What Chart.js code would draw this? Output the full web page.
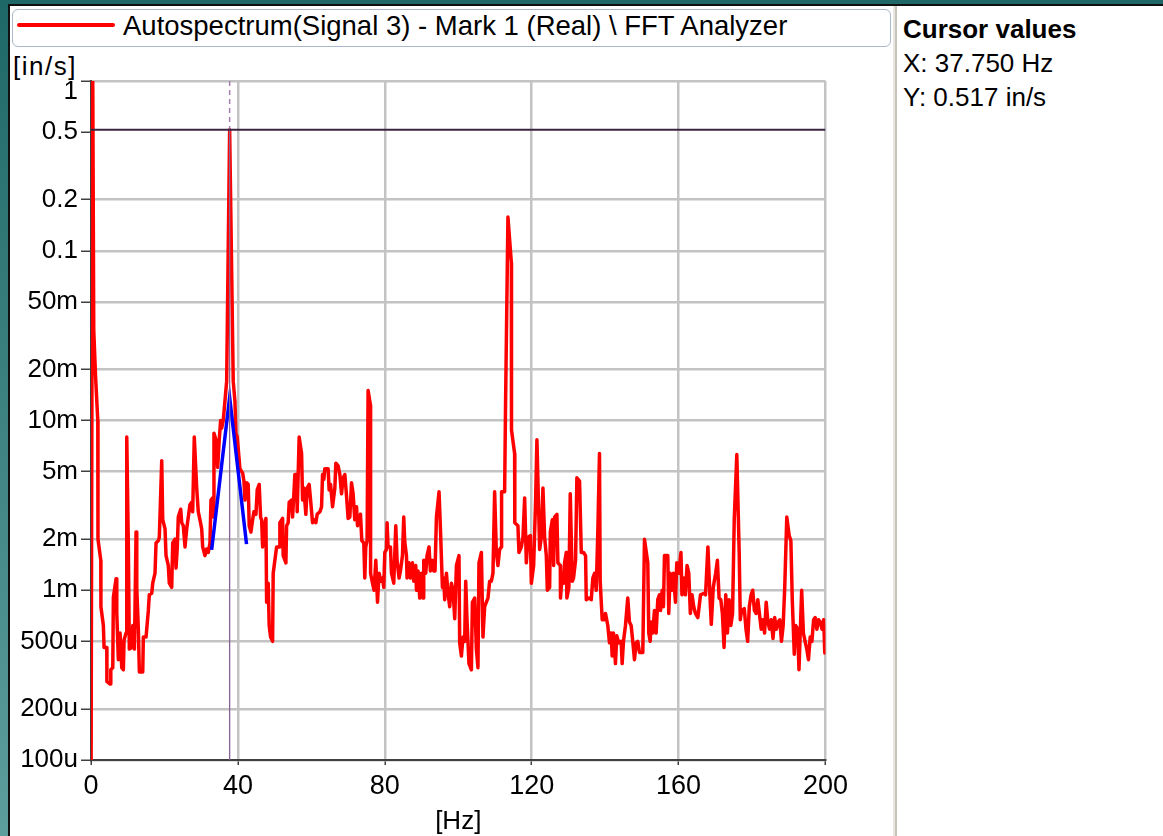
<!DOCTYPE html>
<html>
<head>
<meta charset="utf-8">
<script src="https://cdn.jsdelivr.net/npm/chart.js"></script>
<style>
html,body{margin:0;padding:0;width:1163px;height:836px;overflow:hidden;background:#fff;
  font-family:"Liberation Sans",Arial,sans-serif;color:#000;}
.abs{position:absolute;}
#frameTop{left:0;top:0;width:1163px;height:4px;background:#1f6868;}
#frameTopLine{left:8px;top:4px;width:1155px;height:2px;background:#101010;}
#frameLeft{left:0;top:0;width:8px;height:836px;background:linear-gradient(#1f6868,#5c9e9c);}
#frameLeftLine{left:8px;top:4px;width:2px;height:832px;background:#101010;}
#div1{left:893px;top:6px;width:2px;height:830px;background:#e8e6e0;}
#div2{left:895px;top:6px;width:2px;height:830px;background:#c8c4bb;}
#legend{left:12px;top:9px;width:877px;height:36px;border:1px solid #a9b8ca;border-radius:6px;background:#fff;}
#legendLine{left:17px;top:23px;width:98px;height:4px;background:#ff0000;border-radius:2px;}
#legendText{left:123px;top:9.5px;font-size:27.5px;line-height:32px;white-space:nowrap;}
#yTitle{left:13px;top:50.5px;font-size:26px;line-height:30px;letter-spacing:1.5px;white-space:nowrap;}
.panel{left:903px;font-size:26px;line-height:30px;white-space:nowrap;}
#pTitle{top:13.5px;font-weight:bold;}
#pX{top:47.5px;}
#pY{top:82px;}
canvas{position:absolute;left:0;top:0;}
</style>
</head>
<body>
<div id="frameTop" class="abs"></div>
<div id="frameLeft" class="abs"></div>
<div id="frameTopLine" class="abs"></div>
<div id="frameLeftLine" class="abs"></div>
<div id="div1" class="abs"></div>
<div id="div2" class="abs"></div>
<div id="legend" class="abs"></div>
<div id="legendLine" class="abs"></div>
<div id="legendText" class="abs"></div>
<div id="yTitle" class="abs"></div>
<div id="pTitle" class="abs panel">Cursor values</div>
<div id="pX" class="abs panel"></div>
<div id="pY" class="abs panel"></div>
<canvas id="c" width="893" height="836"></canvas>
<script>
// ---------------- data ----------------
const seriesName = 'Autospectrum(Signal 3) - Mark 1 (Real) \\ FFT Analyzer';
const xUnit = 'Hz';
const yUnit = 'in/s';

const freqs = [
0.00,0.45,0.75,1.25,1.85,1.90,2.67,2.70,3.37,3.56,4.30,4.33,5.20,5.39,5.93,6.09,6.83,7.02,7.45,7.91,
8.38,8.81,9.00,9.55,9.74,10.17,10.44,11.10,11.37,11.80,11.83,12.27,12.46,12.90,13.17,14.09,14.25,14.99,15.61,15.88,
16.54,16.81,17.43,17.71,18.33,18.60,19.26,19.53,20.16,20.43,21.05,21.32,21.98,22.25,22.87,23.15,23.50,23.77,24.43,24.70,
25.13,25.60,26.06,26.49,26.96,27.42,27.69,28.12,28.78,29.21,29.67,30.14,30.41,31.03,31.50,31.93,32.39,32.67,33.13,33.29,
33.48,34.03,34.49,34.92,35.30,35.58,36.01,36.94,37.75,38.73,39.19,39.46,39.82,40.55,41.29,41.64,41.92,42.38,42.81,43.08,
43.55,44.01,44.36,44.91,45.26,45.80,46.18,46.46,46.73,47.08,47.63,47.82,48.25,48.52,48.90,49.45,49.61,50.54,51.24,51.43,
52.17,52.33,53.07,53.26,53.69,53.96,54.62,54.89,55.24,55.51,55.98,56.14,56.68,57.34,57.61,57.96,58.50,58.86,59.40,59.79,
60.33,60.96,61.23,61.58,62.32,62.78,63.05,63.40,63.68,64.57,64.84,65.23,65.77,66.40,66.67,67.29,67.76,68.22,68.65,69.12,
69.58,70.01,70.48,70.94,71.37,71.83,72.30,72.57,73.00,73.38,73.74,74.28,74.55,74.82,75.18,75.45,76.10,76.13,76.65,77.08,
77.55,78.01,78.44,78.91,79.37,79.72,80.00,80.46,80.62,80.89,81.54,81.82,82.44,82.99,83.34,83.88,84.26,84.81,85.16,85.43,
85.90,86.06,86.60,86.99,87.53,87.88,88.43,88.62,89.05,89.52,89.98,90.41,90.60,91.15,91.50,92.04,92.42,92.97,93.32,93.68,
94.06,94.77,95.15,95.69,96.04,96.31,96.78,97.21,97.68,98.14,98.57,99.04,99.50,100.20,100.39,100.86,101.29,101.75,102.03,102.38,
102.92,103.58,103.85,104.47,104.94,105.37,105.64,106.30,106.73,107.19,107.66,108.09,108.55,109.02,109.45,109.91,110.37,110.81,111.27,111.74,
111.80,112.63,112.90,113.53,114.46,114.50,115.35,115.40,116.25,116.53,117.18,117.62,118.08,118.54,118.98,119.63,119.90,120.53,121.07,121.42,
122.16,122.62,123.06,123.52,123.98,124.26,124.88,125.07,125.62,125.97,126.24,126.86,127.13,127.79,127.84,128.33,128.68,128.95,129.41,129.58,
130.12,130.50,131.04,131.39,131.94,132.30,133.03,133.50,134.12,134.67,134.86,135.56,136.22,136.65,137.11,137.57,138.00,138.46,138.65,139.20,
139.82,140.09,140.72,141.18,141.64,141.91,142.27,142.81,143.16,143.71,144.36,144.63,144.99,145.53,146.16,146.62,147.08,147.52,147.98,148.45,
148.88,149.35,150.25,150.71,151.61,151.88,152.26,152.53,152.97,153.43,153.89,154.33,154.79,155.07,155.53,155.88,156.15,157.05,157.32,157.70,
158.24,158.60,159.14,159.50,160.04,160.64,160.91,161.38,161.84,162.30,162.77,163.20,163.66,164.12,164.59,165.24,165.97,166.90,167.33,167.98,
168.52,168.90,169.44,170.09,170.56,171.02,171.49,171.92,172.38,172.84,173.30,173.76,174.22,174.69,175.15,175.85,176.50,176.80,177.15,177.89,
178.35,178.81,179.25,179.74,180.18,180.64,181.10,181.57,182.49,182.95,183.41,183.85,184.31,184.77,185.23,185.70,186.16,186.62,187.09,187.55,
188.01,188.47,188.90,189.46,190.11,190.57,190.95,191.50,191.88,192.42,192.78,193.51,193.98,194.44,194.91,195.37,195.83,196.30,196.76,197.19,
197.66,198.12,198.58,199.05,199.51,199.80,200.00
];

const amps = [
0.00005,1.4,0.034,0.018,0.0100,0.0020,0.0015,0.0008,0.00062,0.00046,0.00046,0.00029,0.00028,0.00034,0.00035,0.00091,0.00117,0.00073,0.00039,0.00056,
0.00035,0.00034,0.00051,0.00056,0.0080,0.0018,0.00045,0.00046,0.00062,0.00062,0.00045,0.0022,0.00104,0.00058,0.00033,0.00033,0.00053,0.00053,0.00076,0.00094,
0.00096,0.0011,0.00126,0.0019,0.00196,0.00205,0.0058,0.0026,0.0023,0.0016,0.0014,0.0011,0.00104,0.0019,0.0020,0.00135,0.0018,0.0027,0.0030,0.0025,
0.0024,0.0018,0.0023,0.0027,0.0032,0.0033,0.0029,0.0080,0.0040,0.0029,0.0026,0.0023,0.0018,0.0016,0.00175,0.00167,0.0019,0.0034,0.0035,0.0027,
0.0084,0.0077,0.0053,0.0077,0.0100,0.0090,0.0100,0.017,0.517,0.017,0.013,0.0084,0.0080,0.0052,0.0049,0.0044,0.0034,0.0043,0.0042,0.0024,
0.0022,0.0026,0.0029,0.0028,0.0039,0.0042,0.0027,0.0026,0.0018,0.0023,0.00265,0.00085,0.0011,0.00062,0.00053,0.00050,0.00126,0.0018,0.0018,0.0025,
0.00265,0.0016,0.00145,0.0024,0.0025,0.0033,0.0034,0.0027,0.0037,0.0048,0.0048,0.0029,0.0080,0.0064,0.0034,0.0040,0.0028,0.0040,0.0042,0.0034,
0.0025,0.0026,0.0025,0.0028,0.0029,0.0031,0.0048,0.0045,0.0052,0.0052,0.0039,0.0042,0.0031,0.0040,0.0056,0.0054,0.0048,0.0037,0.0046,0.0048,
0.0036,0.00265,0.0027,0.0043,0.0037,0.0026,0.0031,0.0024,0.0025,0.0028,0.00196,0.0019,0.00118,0.0018,0.00196,0.015,0.0123,0.00126,0.0011,0.0010,
0.0015,0.00085,0.00126,0.00113,0.00118,0.00104,0.00167,0.00174,0.0025,0.0018,0.0018,0.00126,0.0011,0.0024,0.0015,0.00118,0.0013,0.0016,0.0027,0.00193,
0.0016,0.00118,0.00145,0.00118,0.00145,0.00113,0.0014,0.0010,0.0013,0.0009,0.00126,0.0009,0.0015,0.00126,0.0016,0.0018,0.0013,0.0015,0.0013,0.0013,
0.0027,0.0038,0.0023,0.00104,0.00118,0.00088,0.00126,0.00096,0.0008,0.0011,0.0010,0.00068,0.0014,0.0016,0.00049,0.00041,0.00053,0.00050,0.00113,0.00067,
0.00037,0.00034,0.00085,0.0009,0.00045,0.00035,0.00145,0.00167,0.00053,0.0008,0.00085,0.0009,0.00113,0.00113,0.00126,0.0038,0.00167,0.0014,0.00174,0.0018,
0.0038,0.0038,0.0136,0.158,0.085,0.0088,0.0064,0.0025,0.0024,0.00167,0.0018,0.00205,0.0035,0.00145,0.00205,0.0021,0.0011,0.0014,0.0034,0.0077,
0.00174,0.00205,0.0040,0.00205,0.0016,0.0010,0.00104,0.0022,0.0026,0.0014,0.0027,0.0028,0.00145,0.0014,0.0009,0.00126,0.0011,0.00145,0.00167,0.0009,
0.00104,0.0037,0.00113,0.00118,0.0015,0.0046,0.0044,0.00167,0.00167,0.0016,0.00088,0.0009,0.00088,0.00118,0.00126,0.0010,0.0022,0.0064,0.00113,0.00067,
0.00067,0.00073,0.00062,0.00049,0.00056,0.00041,0.00056,0.00037,0.00054,0.00049,0.00050,0.00037,0.00050,0.00062,0.0009,0.00065,0.00062,0.00050,0.00039,0.00049,
0.00050,0.00043,0.00043,0.0020,0.00145,0.00056,0.00050,0.00065,0.00056,0.00076,0.00056,0.00088,0.00094,0.00076,0.0010,0.0008,0.0016,0.0016,0.00073,0.00126,
0.0010,0.00126,0.00085,0.00145,0.00126,0.00167,0.00094,0.00118,0.00094,0.0014,0.00126,0.00073,0.00094,0.0008,0.00073,0.00069,0.00094,0.00096,0.00094,0.0018,
0.00094,0.00063,0.00104,0.00126,0.0015,0.0009,0.00088,0.00073,0.00046,0.00094,0.00056,0.00088,0.00062,0.00073,0.0026,0.0063,0.00167,0.00067,0.00076,0.00078,
0.00059,0.00050,0.0008,0.00094,0.0010,0.00076,0.00073,0.00088,0.00059,0.00067,0.00056,0.00085,0.00065,0.00059,0.00067,0.00052,0.00069,0.00059,0.00065,0.00067,
0.00050,0.00062,0.00104,0.0027,0.0021,0.00196,0.00088,0.00042,0.00062,0.00059,0.00034,0.0010,0.00056,0.00050,0.00045,0.00039,0.00053,0.00050,0.00067,0.00069,
0.00059,0.00067,0.00065,0.00059,0.00067,0.00043,0.00042
];

// peak fit (blue)
const fitFreqs = [32.85, 37.75, 42.35];
const fitAmps  = [0.00173, 0.0137, 0.00187];

// axes
const xTicks = [0, 40, 80, 120, 160, 200];
const xTickLabels = ['0', '40', '80', '120', '160', '200'];
const yTicks = [0.0001, 0.0002, 0.0005, 0.001, 0.002, 0.005, 0.01, 0.02, 0.05, 0.1, 0.2, 0.5, 1];
const yTickLabels = ['100u', '200u', '500u', '1m', '2m', '5m', '10m', '20m', '50m', '0.1', '0.2', '0.5', '1'];

// cursor
const cursorX = 37.75;
const cursorY = 0.517;

// ---------------- texts ----------------
document.getElementById('legendText').textContent = seriesName;
document.getElementById('yTitle').textContent = '[' + yUnit + ']';
document.getElementById('pX').textContent = 'X: ' + cursorX.toFixed(3) + ' ' + xUnit;
document.getElementById('pY').textContent = 'Y: ' + cursorY.toFixed(3) + ' ' + yUnit;

// ---------------- chart ----------------
const FONT = "'Liberation Sans', Arial, sans-serif";
const GRID = '#c3c3c3';
const AXIS = '#404040';

const cursorPlugin = {
  id: 'cursorLines',
  afterDatasetsDraw(chart) {
    const {ctx, chartArea: a, scales: {x, y}} = chart;
    const px = x.getPixelForValue(cursorX);
    const py = y.getPixelForValue(cursorY);
    ctx.save();
    ctx.beginPath();
    ctx.rect(a.left, a.top - 1, a.right - a.left, a.bottom - a.top + 2);
    ctx.clip();
    ctx.strokeStyle = '#a47fae';
    ctx.lineWidth = 1.5;
    ctx.setLineDash([5, 4]);
    ctx.beginPath(); ctx.moveTo(px, a.top); ctx.lineTo(px, py); ctx.stroke();
    ctx.setLineDash([]);
    ctx.strokeStyle = '#8a6392';
    ctx.lineWidth = 1.3;
    ctx.beginPath(); ctx.moveTo(px, py); ctx.lineTo(px, a.bottom); ctx.stroke();
    ctx.strokeStyle = '#3b2442';
    ctx.lineWidth = 2;
    ctx.beginPath(); ctx.moveTo(a.left, py); ctx.lineTo(a.right, py); ctx.stroke();
    ctx.restore();
  }
};

new Chart(document.getElementById('c'), {
  type: 'line',
  data: {
    datasets: [
      {
        label: 'Peak fit',
        data: fitFreqs.map((f, i) => ({x: f, y: fitAmps[i]})),
        borderColor: '#0000ff',
        borderWidth: 3.5,
        pointRadius: 0,
        tension: 0,
        order: 0
      },
      {
        label: seriesName,
        data: freqs.map((f, i) => ({x: f, y: amps[i]})),
        borderColor: '#ff0000',
        borderWidth: 3.5,
        borderJoinStyle: 'round',
        pointRadius: 0,
        tension: 0,
        order: 1
      }
    ]
  },
  options: {
    responsive: false,
    animation: false,
    events: [],
    layout: {padding: {left: 0, top: 81, right: 67.5, bottom: 0}},
    plugins: {legend: {display: false}, tooltip: {enabled: false}, title: {display: false}},
    scales: {
      x: {
        type: 'linear', min: 0, max: 200,
        afterBuildTicks: s => { s.ticks = xTicks.map(v => ({value: v})); },
        afterFit: s => { s.height = 76; },
        ticks: {
          callback: v => xTickLabels[xTicks.indexOf(v)],
          font: {family: FONT, size: 27},
          color: '#000', padding: 5, maxRotation: 0, autoSkip: false
        },
        grid: {color: GRID, lineWidth: 2.5, tickLength: 5, tickColor: AXIS, tickWidth: 1.5},
        border: {color: AXIS, width: 2},
        title: {display: true, text: '[' + xUnit + ']', color: '#000',
                font: {family: FONT, size: 26, lineHeight: 1.1}, padding: {top: 0, bottom: 0}}
      },
      y: {
        type: 'logarithmic', min: 0.0001, max: 1,
        afterBuildTicks: s => { s.ticks = yTicks.map(v => ({value: v})); },
        afterFit: s => { s.width = 91; },
        ticks: {
          callback: v => {
            const l = yTickLabels[yTicks.indexOf(v)];
            return v === 1 ? ['', l] : l;
          },
          font: {family: FONT, size: 26, lineHeight: 0.8},
          color: '#000', padding: 3, autoSkip: false
        },
        grid: {
          color: c => (c.tick && Math.abs(Math.log10(c.tick.value / cursorY)) < 0.03) ? 'rgba(0,0,0,0)' : GRID,
          lineWidth: 2.5, tickLength: 10, tickColor: AXIS, tickWidth: 1.5
        },
        border: {color: AXIS, width: 2}
      }
    }
  },
  plugins: [cursorPlugin]
});
</script>
</body>
</html>
